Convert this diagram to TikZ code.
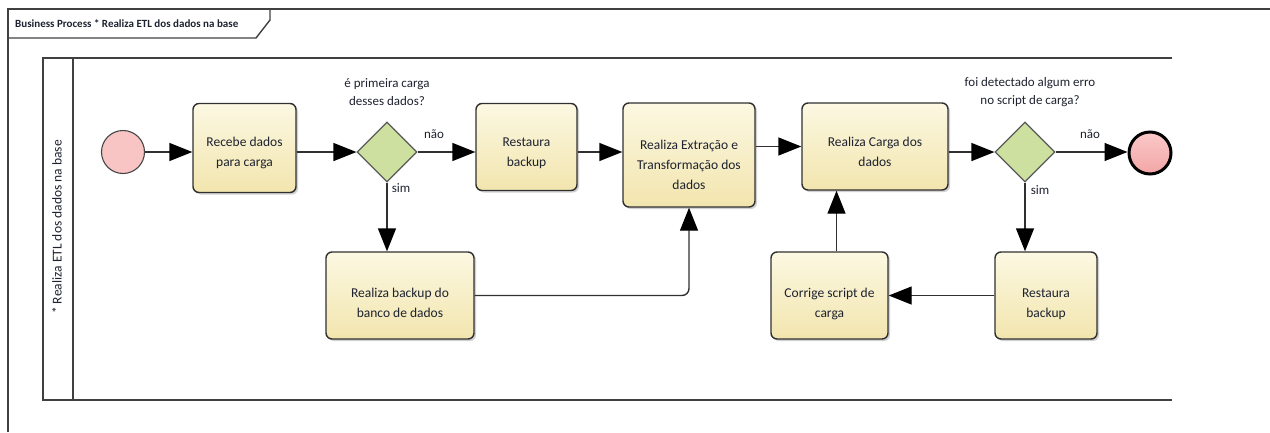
\documentclass[tikz,border=0pt]{standalone}
\usepackage{fontspec}
\setmainfont{Carlito}
\usetikzlibrary{arrows.meta,shapes.geometric,shadows}
\definecolor{edgegray}{HTML}{303030}
\definecolor{frameGray}{HTML}{404040}
\definecolor{taskTop}{HTML}{FCF8E2}
\definecolor{taskBot}{HTML}{F2E5AE}
\definecolor{gateFill}{HTML}{CDE0A0}
\definecolor{startFill}{HTML}{F9C4C4}
\definecolor{endTop}{HTML}{FBC8C8}
\definecolor{endBot}{HTML}{F3A6A6}
\definecolor{txt}{HTML}{1E2230}
% task caption, set #1 pt below the middle of its box
\newcommand{\tasktext}[2]{\raisebox{-\dimexpr #1pt+3.4pt\relax}[0pt][0pt]{\begin{tabular}{@{}c@{}}#2\end{tabular}}}
\begin{document}
\begin{tikzpicture}[x=1pt,y=-1pt,
  every node/.style={text=txt},
  lbl/.style={font=\fontsize{13}{18.5}\selectfont, align=center, inner sep=0pt},
  task/.style={rectangle, rounded corners=6pt, draw=edgegray, line width=1.4pt,
    top color=taskTop, bottom color=taskBot, align=center, inner sep=0pt,
    font=\fontsize{13.5}{20}\selectfont,
    drop shadow={shadow xshift=2pt, shadow yshift=-2pt, fill=black, opacity=0.18}},
  gate/.style={diamond, aspect=1, draw=edgegray!80, line width=1.2pt, fill=gateFill,
    minimum width=60pt, minimum height=60pt, inner sep=0pt},
  flow/.style={draw=edgegray, line width=1.4pt, -{Triangle[length=23pt,width=18pt,fill=black,color=black]}},
  wire/.style={draw=frameGray, line width=1.4pt}]
\useasboundingbox (0,0) rectangle (1270,432);

% outer frame with its title tab
\draw[wire] (8,432) -- (8,9) -- (1270,9);
\draw[wire] (8,38) -- (256,38) -- (270,20) -- (270,9);
\node[anchor=west, inner sep=0pt, font=\fontsize{11}{12}\selectfont\bfseries] (title) at (15,24)
  {Business Process * Realiza ETL dos dados na base};

% pool with its lane header
\draw[wire] (1172,58) -- (43,58) -- (43,400) -- (1172,400);
\draw[wire] (73,58) -- (73,400);
\node[rotate=90, inner sep=0pt, font=\fontsize{13.5}{15}\selectfont] (lane) at (57,227)
  {* Realiza ETL dos dados na base};

% events
\node[circle, draw=edgegray!90, line width=1.1pt, fill=startFill, minimum size=43pt, inner sep=0pt] (start) at (123,152) {};
\node[circle, draw=black, line width=3pt, top color=endTop, bottom color=endBot, minimum size=42pt, inner sep=0pt] (end) at (1150,153) {};

% tasks
\node[task, minimum width=103pt, minimum height=89pt] (t1) at (244.5,148) {\tasktext{5}{Recebe dados\\para carga}};
\node[task, minimum width=101pt, minimum height=87pt] (rt) at (526.5,147) {\tasktext{6}{Restaura\\backup}};
\node[task, minimum width=132pt, minimum height=104pt] (ext) at (689,155) {\tasktext{10.5}{Realiza Extração e\\Transformação dos\\dados}};
\node[task, minimum width=146pt, minimum height=87pt] (carga) at (875,146.5) {\tasktext{6}{Realiza Carga dos\\dados}};
\node[task, minimum width=148pt, minimum height=87pt] (bk) at (400,295.5) {\tasktext{8.5}{Realiza backup do\\banco de dados}};
\node[task, minimum width=117pt, minimum height=87pt] (cor) at (829.5,295.5) {\tasktext{8.5}{Corrige script de\\carga}};
\node[task, minimum width=102pt, minimum height=87pt] (rb) at (1046,295.5) {\tasktext{8.5}{Restaura\\backup}};

% gateways and their questions
\node[gate] (g1) at (387,152) {};
\node[gate] (g2) at (1025,152) {};
\node[lbl] (q1) at (387,92) {é primeira carga\\desses dados?};
\node[lbl] (q2) at (1030,92) {foi detectado algum erro\\no script de carga?};

% sequence flows
\draw[flow] (start.east) -- (start.east -| t1.west);
\draw[flow] (g1.west -| t1.east) -- (g1.west);
\draw[flow] (g1.east) -- (g1.east -| rt.west);
\draw[flow] (g1.south) -- (g1.south |- bk.north);
\draw[flow] (g1.east -| rt.east) -- (g1.east -| ext.west);
\draw[flow, rounded corners=7pt] (bk.east) -- (bk.east -| ext.south) -- (ext.south);
\draw[flow] (carga.west -| ext.east) -- (carga.west);
\draw[flow] (g2.west -| carga.east) -- (g2.west);
\draw[flow] (g2.east) -- (g2.east -| end.west);
\draw[flow] (g2.south) -- (g2.south |- rb.north);
\draw[flow] (rb.west) -- (cor.east);
\draw[flow] ([xshift=7pt]cor.north) -- ([xshift=7pt]cor.north |- carga.south);

% gateway branch labels
\node[lbl] (n1) at (434,134) {não};
\node[lbl] (s1) at (401,188) {sim};
\node[lbl] (n2) at (1090,134) {não};
\node[lbl] (s2) at (1040,190) {sim};
\end{tikzpicture}
\end{document}
